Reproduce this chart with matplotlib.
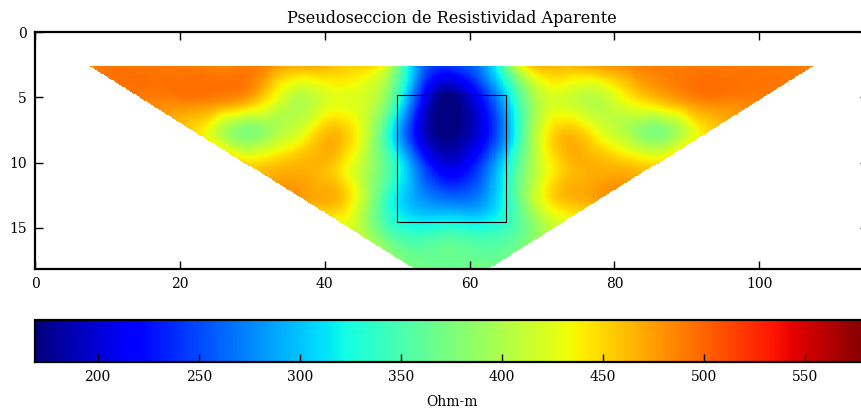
import numpy as np
import matplotlib
matplotlib.use("Agg")
import matplotlib.pyplot as plt
import matplotlib.tri as mtri
from matplotlib.patches import Rectangle

plt.rcParams['font.family'] = ['DejaVu Serif']

# Wenner pseudosection: electrodes every 5 m from 0 to 115 m, a = 5..35 m
depths = [2.6, 5.19, 7.79, 10.38, 12.98, 15.57, 18.17]
x_first = [7.5, 15.0, 22.5, 30.0, 37.5, 45.0, 52.5]
# apparent resistivity (Ohm-m) read per level, left to right, 5 m apart
rho_n1 = [488, 492, 492, 490, 488, 482, 470, 455, 440, 290, 245,
          290, 440, 462, 475, 485, 490, 492, 492, 490, 488]
rho_n2 = [488, 488, 485, 465, 410, 420, 420, 340, 185,
          195, 300, 410, 410, 420, 455, 480, 488, 488]
rho_n3 = [445, 385, 395, 435, 458, 370, 225, 170,
          225, 360, 458, 435, 395, 385, 445]
rho_n4 = [455, 465, 462, 410, 330, 225, 225, 320, 420, 465, 465, 455]
rho_n5 = [472, 455, 360, 290, 270, 290, 380, 455, 472]
rho_n6 = [410, 350, 345, 345, 350, 395]
rho_n7 = [375, 365, 375]
levels = [rho_n1, rho_n2, rho_n3, rho_n4, rho_n5, rho_n6, rho_n7]

# anomaly box (x0, z0, width, height)
box = (50.0, 4.8, 15.0, 9.75)

xs, zs, vals = [], [], []
for d, x0, row in zip(depths, x_first, levels):
    for i, v in enumerate(row):
        xs.append(x0 + 5.0 * i)
        zs.append(d)
        vals.append(v)
xs = np.array(xs)
zs = np.array(zs)
vals = np.array(vals, dtype=float)

tri = mtri.Triangulation(xs, zs)
interp = mtri.CubicTriInterpolator(tri, vals, kind='min_E')
xi = np.linspace(0, 115, 600)
zi = np.linspace(0, 18.17, 240)
XI, ZI = np.meshgrid(xi, zi)
field = interp(XI, ZI)

fig = plt.figure(figsize=(8.61, 4.09), dpi=100)
ax = fig.add_axes([35 / 861, 140 / 409, 833 / 861, 236.7 / 409])
cax = fig.add_axes([35 / 861, 47 / 409, 833 / 861, 42.5 / 409])

mesh = ax.pcolormesh(XI, ZI, field, cmap='jet', vmin=169, vmax=581,
                     shading='auto')
ax.add_patch(Rectangle(box[:2], box[2], box[3], fill=False,
                       edgecolor='black', linewidth=0.8))
ax.set_xlim(0, 115)
ax.set_ylim(18.17, 0)
ax.set_xticks([0, 20, 40, 60, 80, 100])
ax.set_yticks([0, 5, 10, 15])
ax.tick_params(direction='in', length=6, width=1, labelsize=10, pad=6,
               top=True, right=True)
for s in ax.spines.values():
    s.set_linewidth(1.6)
ax.set_title('Pseudoseccion de Resistividad Aparente', fontsize=11.6, pad=7)

cb = fig.colorbar(mesh, cax=cax, orientation='horizontal',
                  ticks=[200, 250, 300, 350, 400, 450, 500, 550])
cb.ax.tick_params(direction='in', length=6, width=1, labelsize=10, pad=6)
cb.outline.set_linewidth(1.6)
cb.set_label('Ohm-m', fontsize=10, labelpad=8)

fig.savefig('out.png', dpi=100)
